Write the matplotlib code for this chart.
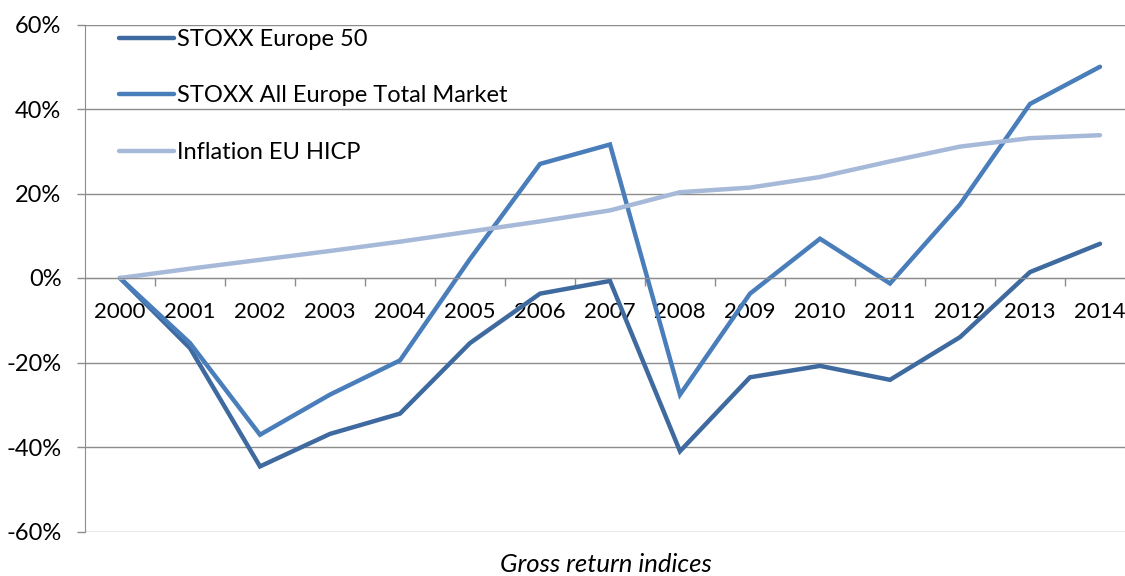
import matplotlib
matplotlib.use("Agg")
import matplotlib.pyplot as plt
import numpy as np
from matplotlib.ticker import FixedLocator, PercentFormatter

years = ["2000", "2001", "2002", "2003", "2004", "2005", "2006", "2007",
         "2008", "2009", "2010", "2011", "2012", "2013", "2014"]
stoxx50 = [0.0, -16.6, -44.6, -36.9, -32.1, -15.4, -3.7, -0.7,
           -41.0, -23.5, -20.8, -24.1, -14.0, 1.4, 8.1]
total_market = [0.0, -15.4, -37.1, -27.6, -19.5, 4.5, 27.0, 31.6,
                -27.6, -3.7, 9.3, -1.3, 17.4, 41.2, 50.0]
inflation = [0.0, 2.2, 4.3, 6.4, 8.6, 11.0, 13.4, 16.0,
             20.3, 21.4, 23.9, 27.6, 31.1, 33.1, 33.8]
labels = ["STOXX Europe 50", "STOXX All Europe Total Market", "Inflation EU HICP"]
colors = ["#3F6A9F", "#4A7EBB", "#A6B9D8"]
yticks = [-60, -40, -20, 0, 20, 40, 60]

plt.rcParams['font.family'] = ['Lato', 'DejaVu Sans']
plt.rcParams['axes.unicode_minus'] = False

fig = plt.figure(figsize=(11.25, 5.76), dpi=100)
ax = fig.add_axes([85 / 1125, 1 - 531.5 / 576, 1050 / 1125, 507 / 576])

x = np.arange(len(years))
for vals, lab, c in zip([stoxx50, total_market, inflation], labels, colors):
    ax.plot(x, vals, color=c, lw=3.2, label=lab, solid_capstyle='round',
            solid_joinstyle='miter')

ax.set_xlim(-0.5, len(years) - 0.5)
ax.set_ylim(-60, 60)
ax.yaxis.set_major_locator(FixedLocator(yticks))
ax.yaxis.set_major_formatter(PercentFormatter(decimals=0))
ax.grid(axis='y', color='#8C8C8C', lw=1.0)
ax.set_axisbelow(True)

for s in ['top', 'right']:
    ax.spines[s].set_visible(False)
ax.spines['left'].set_color('#8C8C8C')
ax.spines['bottom'].set_position(('data', 0))
ax.spines['bottom'].set_color('#8C8C8C')

ax.set_xticks(x)
ax.set_xticklabels(years)
ax.set_xticks(np.arange(0.5, len(years) - 0.5, 1.0), minor=True)
ax.tick_params(axis='x', which='major', length=0, pad=17, labelsize=16)
ax.tick_params(axis='x', which='minor', length=6, width=1, color='#8C8C8C', direction='out')
ax.tick_params(axis='y', length=6, width=1, color='#8C8C8C', pad=11, labelsize=17)

leg = ax.legend(loc='upper left', bbox_to_anchor=(119 / 1125, 1 - 29 / 576),
                bbox_transform=fig.transFigure, frameon=False, fontsize=17,
                borderpad=0, borderaxespad=0, handlelength=2.35, handletextpad=0.1,
                labelspacing=1.5)

fig.text(606 / 1125, 1 - 564 / 576, "Gross return indices", style='italic',
         fontsize=18.5, ha='center', va='center')

fig.savefig("out.png", dpi=100)
